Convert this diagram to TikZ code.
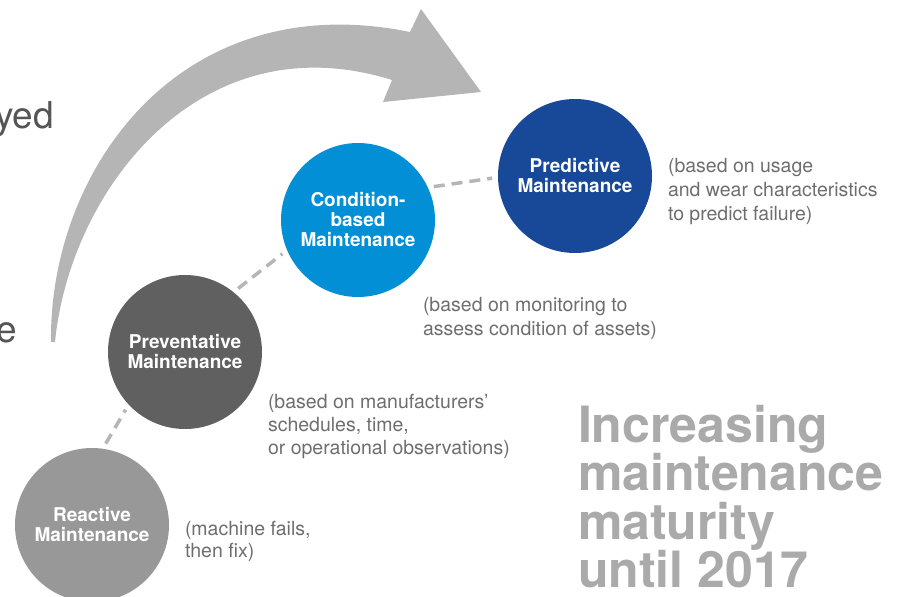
\documentclass[tikz,border=0pt]{standalone}
\usepackage{fontspec}
\setmainfont{TeX Gyre Heros}
\usepackage{xcolor}
\usepackage{tikz}
\definecolor{arrowgray}{RGB}{181,181,181}
\definecolor{reactgray}{RGB}{152,152,152}
\definecolor{prevgray}{RGB}{96,96,96}
\definecolor{condblue}{RGB}{3,143,214}
\definecolor{predblue}{RGB}{24,72,152}
\definecolor{notegray}{RGB}{110,110,110}
\definecolor{titlegray}{RGB}{170,170,170}
\definecolor{dashgray}{RGB}{182,182,182}
\definecolor{sidegray}{RGB}{85,85,85}

\begin{document}
\begin{tikzpicture}[
	x=1pt, y=-1pt,
	every node/.style = {inner sep=0pt, outer sep=0pt},
	stage/.style = {shape=circle, minimum size=154pt, align=center,
	text=white, font=\fontsize{19}{20}\selectfont\bfseries},
	note/.style = {anchor=north west, align=left, text=notegray,
	font=\fontsize{19.5}{24}\selectfont},
	side/.style = {anchor=base west, text=sidegray,
	font=\fontsize{37}{37}\selectfont},
	link/.style = {draw=dashgray, line width=3.5pt,
	dash pattern=on 11pt off 7pt, shorten <=6pt, shorten >=6pt}
]
\useasboundingbox (0,0) rectangle (897,597);

% big arrow
\fill[arrowgray] (51,342) .. controls (49,170) and (180,-15) .. (410,32)
	-- (421,9) -- (481,92) -- (383,102) -- (392,80)
	.. controls (200,20) and (70,190) .. (55,342) -- cycle;

% words cut off at the left edge
\node[side] (sidetop) at (-5,128) {yed};
\node[side] (sidebot) at (-4,342) {e};

% stages
\node[stage, fill=reactgray] (react) at (92,525) {Reactive\\Maintenance};
\node[stage, fill=prevgray] (prev) at (185,352) {Preventative\\Maintenance};
\node[stage, fill=condblue] (cond) at (358,220) {Condition-\\based\\Maintenance};
\node[stage, fill=predblue] (pred) at (575,176) {Predictive\\Maintenance};

\draw[link] (react.82) -- (prev.223);
\draw[link] (prev.51) -- (cond.203);
\draw[link] (cond.25) -- (pred.181);

% notes
\node[note] (prednote) at (668,158) {(based on usage\\and wear characteristics\\to predict failure)};
\node[note] (condnote) at (423,297) {(based on monitoring to\\assess condition of assets)};
\node[note, font=\fontsize{19.5}{23.3}\selectfont] (prevnote) at (268,394) {(based on manufacturers'\\schedules, time,\\or operational observations)};
\node[note, font=\fontsize{19.5}{22}\selectfont] (reactnote) at (185,521) {(machine fails,\\then fix)};

\node[anchor=north west, align=left, text=titlegray,
	font=\fontsize{50}{48.5}\selectfont\bfseries] (maturity) at (578,405)
	{Increasing\\maintenance\\maturity\\until 2017};
\end{tikzpicture}
\end{document}
